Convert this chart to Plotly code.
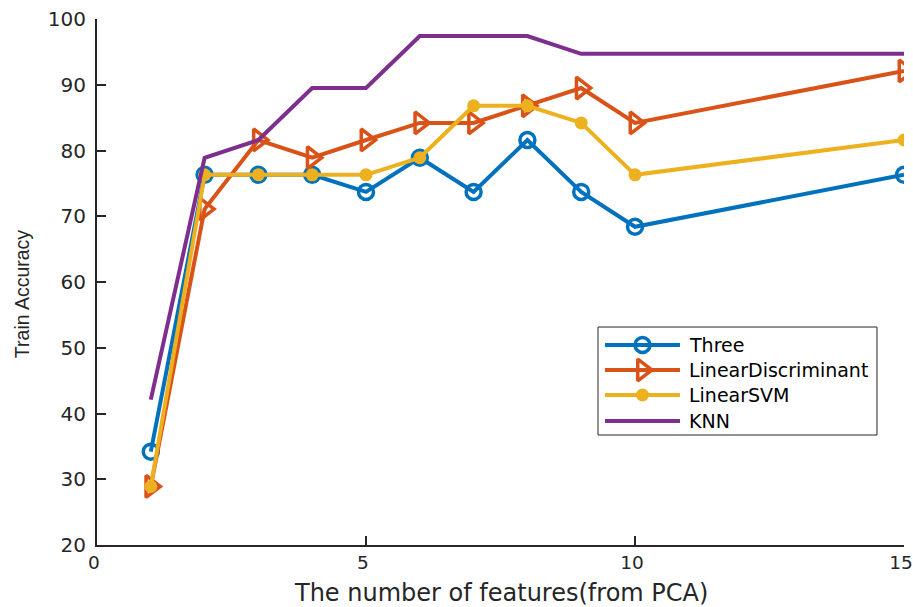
import plotly.graph_objects as go

# Number of PCA features used for each run
features = [1, 2, 3, 4, 5, 6, 7, 8, 9, 10, 15]

# Training accuracy (%) per classifier
acc_three = [34.2, 76.3, 76.3, 76.3, 73.7, 78.9, 73.7, 81.6, 73.7, 68.4, 76.3]
acc_lda = [28.9, 71.1, 81.6, 78.9, 81.6, 84.2, 84.2, 86.8, 89.5, 84.2, 92.1]
acc_svm = [28.9, 76.3, 76.3, 76.3, 76.3, 78.9, 86.8, 86.8, 84.2, 76.3, 81.6]
acc_knn = [42.1, 78.9, 81.6, 89.5, 89.5, 97.4, 97.4, 97.4, 94.7, 94.7, 94.7]

series_names = ["Three", "LinearDiscriminant", "LinearSVM", "KNN"]

x_ticks = [0, 5, 10, 15]
y_ticks = [20, 30, 40, 50, 60, 70, 80, 90, 100]

x_title = "The number of features(from PCA)"
y_title = "Train Accuracy"

BLUE = "#0072BD"
ORANGE = "#D95319"
YELLOW = "#EDB120"
PURPLE = "#7E2F8E"
AXIS = "#262626"
WIDE_FONT = "DejaVu Sans, Verdana, sans-serif"
TITLE_FONT = "Liberation Sans, Arial, sans-serif"
LW = 4

styles = [
    dict(color=BLUE, mode="lines+markers",
         marker=dict(symbol="circle-open", size=15, color=BLUE, line=dict(width=3.5, color=BLUE))),
    dict(color=ORANGE, mode="lines+markers",
         marker=dict(symbol="triangle-right-open", size=19, color=ORANGE, line=dict(width=3.5, color=ORANGE))),
    dict(color=YELLOW, mode="lines+markers",
         marker=dict(symbol="circle", size=13, color=YELLOW)),
    dict(color=PURPLE, mode="lines", marker=None),
]
values = [acc_three, acc_lda, acc_svm, acc_knn]

fig = go.Figure()
for name, ys, st in zip(series_names, values, styles):
    kw = dict(marker=st["marker"]) if st["marker"] else {}
    fig.add_trace(go.Scatter(
        x=features, y=ys, name=name, mode=st["mode"],
        line=dict(color=st["color"], width=LW), showlegend=False, **kw,
    ))

# Hand-built legend box on an overlay axis spanning the plot area in 0..1 units
leg_x0, leg_x1 = 0.6208, 0.9665
leg_y0, leg_y1 = 0.2091, 0.4144
sample_x0, sample_x1 = 0.6295, 0.7224
text_x = 0.7305
row_y = [0.3802, 0.3327, 0.2852, 0.2357]

fig.add_shape(type="rect", xref="x2", yref="y2", x0=leg_x0, x1=leg_x1, y0=leg_y0, y1=leg_y1,
              line=dict(color=AXIS, width=1), fillcolor="white", layer="below")
for name, st, ry in zip(series_names, styles, row_y):
    fig.add_trace(go.Scatter(
        x=[sample_x0, sample_x1], y=[ry, ry], mode="lines", xaxis="x2", yaxis="y2",
        line=dict(color=st["color"], width=LW), showlegend=False, hoverinfo="skip",
    ))
    if st["marker"]:
        fig.add_trace(go.Scatter(
            x=[(sample_x0 + sample_x1) / 2], y=[ry], mode="markers", xaxis="x2", yaxis="y2",
            marker=st["marker"], showlegend=False, hoverinfo="skip",
        ))
    fig.add_annotation(x=text_x, y=ry, xref="x2", yref="y2", text=name, showarrow=False,
                       xanchor="left", yanchor="middle",
                       font=dict(family=WIDE_FONT, size=19, color="black"))

# Axis titles
fig.add_annotation(x=0.5006, y=-0.0913, xref="paper", yref="paper", text=x_title,
                   showarrow=False, xanchor="center", yanchor="middle",
                   font=dict(family=WIDE_FONT, size=24, color=AXIS))
fig.add_annotation(x=-0.0929, y=0.477, xref="paper", yref="paper", text=y_title,
                   showarrow=False, xanchor="center", yanchor="middle", textangle=-90,
                   font=dict(family=TITLE_FONT, size=19.5, color=AXIS))

axis_common = dict(
    showgrid=False, zeroline=False, showline=True, linecolor=AXIS, linewidth=2,
    ticks="inside", ticklen=9, tickwidth=1.5, tickcolor=AXIS, mirror=False,
    ticklabeloverflow="allow", automargin=False,
)

fig.update_layout(
    width=913, height=607,
    margin=dict(l=97, r=9, t=19, b=62),
    paper_bgcolor="white", plot_bgcolor="white",
    font=dict(family=WIDE_FONT, color=AXIS),
    showlegend=False,
    xaxis=dict(range=[0, 15], tickvals=x_ticks, ticktext=[str(v) for v in x_ticks],
               tickfont=dict(family=WIDE_FONT, size=18.5, color=AXIS), ticklabelshift=-3,
               **axis_common),
    yaxis=dict(range=[20, 100], tickvals=y_ticks, ticktext=[str(v) for v in y_ticks],
               tickfont=dict(family=WIDE_FONT, size=20, color=AXIS), ticklabelstandoff=5,
               **axis_common),
    xaxis2=dict(range=[0, 1], overlaying="x", anchor="y2", visible=False, fixedrange=True),
    yaxis2=dict(range=[0, 1], overlaying="y", anchor="x2", visible=False, fixedrange=True),
)

fig.write_html("out.html")
